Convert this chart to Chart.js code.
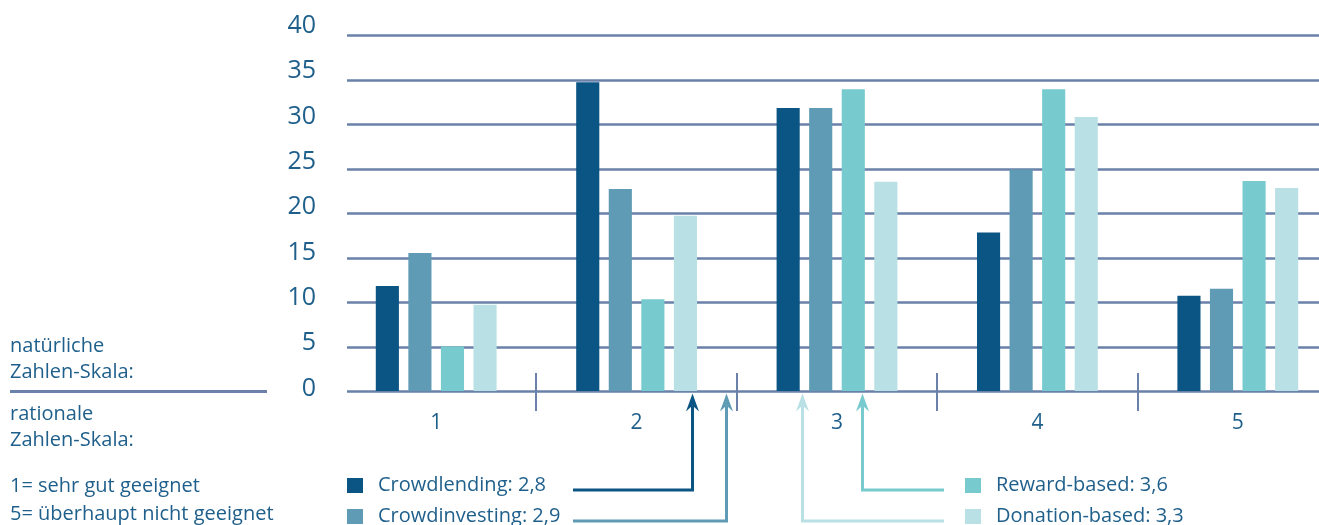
<!DOCTYPE html>
<html>
<head>
<meta charset="utf-8">
<script src="https://cdn.jsdelivr.net/npm/chart.js@4/dist/chart.umd.min.js"></script>
<style>
  html, body { margin:0; padding:0; background:#ffffff; overflow:hidden; width:1319px; height:525px; }
  #wrap { position:absolute; left:0; top:0; width:1340px; height:525px; }
  .t { position:absolute; font-family:'Open Sans', sans-serif; font-size:20px; line-height:20px; color:#1f5f8b; white-space:nowrap; }
  .sq { position:absolute; width:16px; height:15px; }
  #scaleLine { position:absolute; left:10px; top:390px; width:257px; height:2.5px; background:#6a81a9; }
</style>
</head>
<body>
<div id="wrap"><canvas id="c" width="1340" height="525"></canvas></div>
<div id="notes"></div>
<script>
// ---- data ----
const categories = ['1', '2', '3', '4', '5'];
const seriesNames = ['Crowdlending', 'Crowdinvesting', 'Reward-based', 'Donation-based'];
const meanScores = ['2,8', '2,9', '3,6', '3,3'];
const crowdlending   = [11.8, 34.7, 31.8, 17.8, 10.7];
const crowdinvesting = [15.5, 22.7, 31.8, 24.9, 11.5];
const rewardBased    = [5.0, 10.3, 33.9, 33.9, 23.6];
const donationBased  = [9.7, 19.7, 23.5, 30.8, 22.8];
const yTicks = [0, 5, 10, 15, 20, 25, 30, 35, 40];
// arrow positions on the category axis (in category-index units)
const arrowAt = [1.277, 1.444, 2.125, 1.825];
const colors = ['#0a5583', '#5f9bb4', '#77cbce', '#b9e1e5'];
const leftNotes = ['natürliche', 'Zahlen-Skala:', 'rationale', 'Zahlen-Skala:', '1= sehr gut geeignet', '5= überhaupt nicht geeignet'];

// ---- layout constants ----
const gridColor = '#6a81a9';
const textColor = '#1f5f8b';
const noteBaselines = [353, 379, 421, 447, 493, 521];
const legendRows = [490, 521];

// left notes
const notes = document.getElementById('notes');
leftNotes.forEach((s, i) => {
  const d = document.createElement('div');
  d.className = 't';
  d.style.left = '10px';
  d.style.top = (noteBaselines[i] - 18) + 'px';
  d.textContent = s;
  notes.appendChild(d);
});
const ln = document.createElement('div'); ln.id = 'scaleLine'; notes.appendChild(ln);

// legend
const legendPos = [
  {sx:347, tx:378, row:0}, {sx:347, tx:378, row:1},
  {sx:965, tx:996, row:0}, {sx:965, tx:996, row:1}
];
seriesNames.forEach((name, i) => {
  const p = legendPos[i];
  const base = legendRows[p.row] + 2;
  const sq = document.createElement('div');
  sq.className = 'sq';
  sq.style.left = p.sx + 'px';
  sq.style.top = (base - 14) + 'px';
  sq.style.background = colors[i];
  notes.appendChild(sq);
  const t = document.createElement('div');
  t.className = 't';
  t.style.left = p.tx + 'px';
  t.style.top = (base - 18) + 'px';
  t.textContent = name + ': ' + meanScores[i];
  notes.appendChild(t);
});

const decor = {
  id: 'decor',
  beforeDatasetsDraw(chart) {
    const {ctx, chartArea, scales:{x, y}} = chart;
    ctx.save();
    ctx.strokeStyle = gridColor;
    ctx.lineWidth = 2.5;
    yTicks.forEach(v => {
      const py = Math.round(y.getPixelForValue(v)) + 0.5;
      ctx.beginPath();
      ctx.moveTo(chartArea.left + 11, py);
      ctx.lineTo(chartArea.right + 10, py);
      ctx.stroke();
    });
    const y0 = y.getPixelForValue(0);
    ctx.lineWidth = 2;
    for (let i = 0; i < categories.length - 1; i++) {
      const px = Math.round((x.getPixelForValue(i) + x.getPixelForValue(i + 1)) / 2);
      ctx.beginPath();
      ctx.moveTo(px, y0 - 18);
      ctx.lineTo(px, y0 + 20);
      ctx.stroke();
    }
    ctx.restore();
  },
  afterDraw(chart) {
    const {ctx, scales:{x, y}} = chart;
    const y0 = y.getPixelForValue(0);
    const step = x.getPixelForValue(1) - x.getPixelForValue(0);
    const startX = [573, 573, 944, 944];
    ctx.save();
    arrowAt.forEach((a, i) => {
      const ax = Math.round(x.getPixelForValue(0) + a * step) + 0.5;
      const ry = legendRows[legendPos[i].row];
      const tipY = y0 + 2.5;
      ctx.strokeStyle = colors[i];
      ctx.fillStyle = colors[i];
      ctx.lineWidth = 3;
      ctx.beginPath();
      ctx.moveTo(startX[i], ry);
      ctx.lineTo(ax, ry);
      ctx.lineTo(ax, tipY + 12);
      ctx.stroke();
      ctx.beginPath();
      ctx.moveTo(ax, tipY);
      ctx.lineTo(ax + 6.5, tipY + 18);
      ctx.lineTo(ax, tipY + 12);
      ctx.lineTo(ax - 6.5, tipY + 18);
      ctx.closePath();
      ctx.fill();
    });
    ctx.restore();
  }
};

new Chart(document.getElementById('c'), {
  type: 'bar',
  data: {
    labels: categories,
    datasets: [
      {label: seriesNames[0], data: crowdlending, backgroundColor: colors[0], yAxisID: 'y'},
      {label: seriesNames[1], data: crowdinvesting, backgroundColor: colors[1], yAxisID: 'y'},
      {label: seriesNames[2], data: rewardBased, backgroundColor: colors[2], yAxisID: 'y'},
      {label: seriesNames[3], data: donationBased, backgroundColor: colors[3], yAxisID: 'y'}
    ]
  },
  options: {
    responsive: false,
    animation: false,
    events: [],
    layout: {padding: {top: 35, right: 2, left: 0, bottom: 0}},
    datasets: {bar: {categoryPercentage: 0.65, barPercentage: 0.71, borderWidth: 0}},
    plugins: {legend: {display: false}, tooltip: {enabled: false}},
    scales: {
      x: {
        grid: {display: false, drawTicks: false},
        border: {display: false},
        ticks: {color: textColor, font: {family: "'Open Sans', sans-serif", size: 21}, padding: 19, maxRotation: 0},
        afterFit(s) { s.height = 134; }
      },
      y: {
        display: false,
        min: 0, max: 40
      },
      yLabels: {
        position: 'left',
        min: -0.276, max: 39.007,
        afterBuildTicks(s) { s.ticks = yTicks.map(v => ({value: v})); },
        grid: {display: false, drawTicks: false},
        border: {display: false},
        ticks: {color: textColor, font: {family: "'Open Sans', sans-serif", size: 25}, padding: 20},
        afterFit(s) { s.width = 336; }
      }
    }
  },
  plugins: [decor]
});
</script>
</body>
</html>
